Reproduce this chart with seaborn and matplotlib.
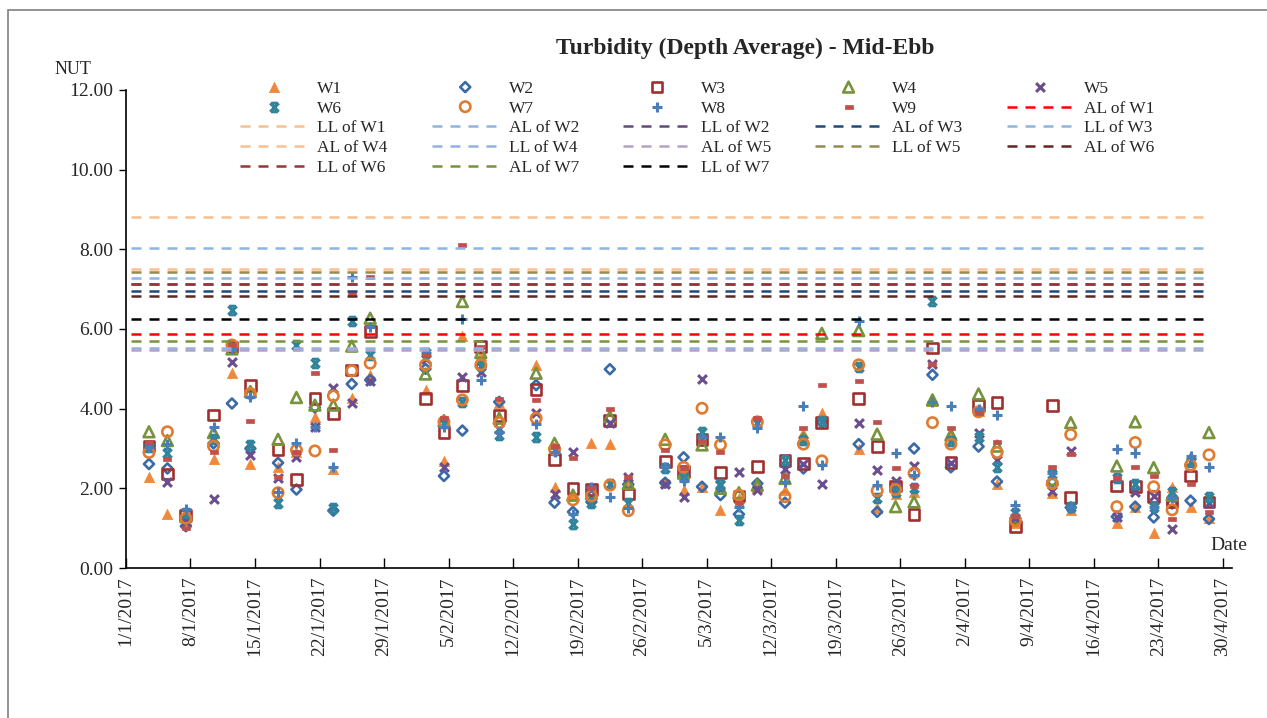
import matplotlib
matplotlib.use("Agg")
import matplotlib.pyplot as plt
from matplotlib.path import Path
from matplotlib.patches import Rectangle
import numpy as np
import pandas as pd
import seaborn as sns

# sampling dates and depth-averaged turbidity per station (NTU)
dates = ["2017-01-03", "2017-01-05", "2017-01-07", "2017-01-10", "2017-01-12", "2017-01-14",
         "2017-01-17", "2017-01-19", "2017-01-21", "2017-01-23", "2017-01-25", "2017-01-27",
         "2017-02-02", "2017-02-04", "2017-02-06", "2017-02-08", "2017-02-10", "2017-02-14",
         "2017-02-16", "2017-02-18", "2017-02-20", "2017-02-22", "2017-02-24", "2017-02-28",
         "2017-03-02", "2017-03-04", "2017-03-06", "2017-03-08", "2017-03-10", "2017-03-13",
         "2017-03-15", "2017-03-17", "2017-03-21", "2017-03-23", "2017-03-25", "2017-03-27",
         "2017-03-29", "2017-03-31", "2017-04-03", "2017-04-05", "2017-04-07", "2017-04-11",
         "2017-04-13", "2017-04-18", "2017-04-20", "2017-04-22", "2017-04-24", "2017-04-26",
         "2017-04-28"]

w1 = [2.29, 1.36, 1.20, 2.73, 4.89, 2.61, 2.54, 2.90, 3.78, 2.48, 4.28, 4.85,
      4.47, 2.69, 5.83, 5.35, 4.13, 5.10, 2.04, 1.80, 3.13, 3.11, 2.15, 2.17,
      1.96, 2.04, 1.46, 1.75, 2.04, 1.96, 3.38, 3.88, 2.98, 1.50, 1.86, 1.92,
      4.20, 3.38, 3.95, 2.12, 1.12, 1.89, 1.46, 1.14, 1.52, 0.89, 2.04, 1.52, 1.25]
w2 = [2.61, 2.50, 1.05, 3.13, 4.13, 3.00, 2.64, 1.97, 4.03, 1.44, 4.62, 4.72,
      5.00, 2.31, 3.45, 5.05, 4.17, 4.59, 1.64, 1.41, 1.66, 4.99, 2.10, 2.14,
      2.78, 2.04, 1.83, 1.35, 2.12, 1.64, 2.50, 3.65, 3.11, 1.41, 1.96, 3.00,
      4.85, 2.53, 3.05, 2.17, 1.25, 2.17, 1.52, 1.29, 1.54, 1.27, 1.62, 1.69, 1.23]
w3 = [3.06, 2.36, 1.33, 3.84, 5.55, 4.59, 2.98, 2.22, 4.26, 3.87, 4.97, 5.93,
      4.26, 3.40, 4.59, 5.56, 3.82, 4.48, 2.73, 2.00, 1.97, 3.70, 1.86, 2.67,
      2.42, 3.23, 2.39, 1.81, 2.54, 2.69, 2.63, 3.65, 4.26, 3.05, 2.06, 1.35,
      5.52, 2.64, 4.07, 4.16, 1.04, 4.07, 1.77, 2.06, 2.04, 1.79, 1.66, 2.31, 1.66]
w4 = [3.42, 3.20, 1.29, 3.40, 5.50, 4.43, 3.23, 4.28, 4.09, 4.09, 5.57, 6.27,
      4.87, 3.70, 6.69, 5.41, 3.76, 4.89, 3.13, 1.83, 1.87, 3.80, 2.12, 3.23,
      2.38, 3.09, 2.00, 1.89, 2.08, 2.25, 3.25, 5.89, 5.96, 3.36, 1.54, 1.66,
      4.22, 3.34, 4.37, 3.06, 1.30, 2.22, 3.65, 2.56, 3.67, 2.52, 1.83, 2.71, 3.40]
w5 = [3.05, 2.17, 1.16, 1.72, 5.18, 2.84, 2.27, 2.78, 3.55, 4.51, 4.13, 4.70,
      5.25, 2.53, 4.79, 4.93, 3.50, 3.90, 1.86, 2.92, 1.96, 3.63, 2.28, 2.12,
      1.77, 4.74, 2.08, 2.42, 1.97, 2.48, 2.61, 2.11, 3.65, 2.46, 2.18, 2.56,
      5.12, 2.63, 3.38, 2.71, 1.25, 1.94, 2.94, 1.29, 1.92, 1.81, 0.99, 2.67, 1.62]
w6 = [3.05, 2.88, 1.39, 3.25, 6.48, 3.09, 1.64, 5.60, 5.15, 1.50, 6.20, 5.35,
      5.39, 3.63, 4.16, 5.08, 3.34, 3.30, 2.96, 1.10, 1.62, 2.12, 1.64, 2.50,
      2.29, 3.42, 2.12, 1.20, 3.63, 2.71, 3.21, 3.70, 5.05, 1.75, 1.92, 2.00,
      6.70, 3.20, 3.28, 2.53, 1.37, 2.36, 1.54, 2.25, 2.12, 1.52, 1.92, 2.67, 1.79]
w7 = [2.90, 3.42, 1.25, 3.06, 5.60, 4.38, 1.89, 2.96, 2.94, 4.32, 4.95, 5.14,
      5.10, 3.67, 4.22, 5.10, 3.65, 3.76, 2.98, 1.71, 1.81, 2.08, 1.44, 3.09,
      2.53, 4.01, 3.09, 1.83, 3.67, 1.79, 3.11, 2.69, 5.10, 1.94, 1.97, 2.38,
      3.65, 3.11, 3.92, 2.90, 1.19, 2.12, 3.35, 1.54, 3.15, 2.04, 1.46, 2.58, 2.84]
w8 = [3.05, 3.11, 1.47, 3.55, 5.50, 4.30, 1.92, 3.13, 3.53, 2.54, 7.30, 6.05,
      5.40, 3.55, 6.25, 4.72, 3.42, 3.62, 2.90, 1.35, 2.04, 1.79, 1.50, 2.54,
      2.18, 3.30, 3.30, 1.54, 3.51, 2.17, 4.07, 2.58, 6.21, 2.08, 2.88, 2.33,
      4.17, 4.07, 4.00, 3.84, 1.58, 2.39, 1.54, 2.98, 2.88, 1.52, 1.75, 2.81, 2.54]
w9 = [3.17, 2.73, 1.00, 2.90, 5.60, 3.70, 2.29, 2.90, 4.89, 2.96, 6.90, 7.30,
      5.35, 3.76, 8.11, 5.55, 4.23, 4.22, 3.06, 2.75, 2.00, 3.98, 2.29, 2.96,
      2.50, 3.20, 2.92, 1.64, 3.76, 2.31, 3.51, 4.59, 4.70, 3.67, 2.50, 2.06,
      5.12, 3.51, 3.90, 3.17, 1.30, 2.53, 2.86, 2.25, 2.54, 2.31, 1.22, 2.12, 1.41]

station_names = ["W1", "W2", "W3", "W4", "W5", "W6", "W7", "W8", "W9"]

# action / limit levels
limit_names = ["AL of W1", "LL of W1", "AL of W2", "LL of W2", "AL of W3", "LL of W3", "AL of W4",
               "LL of W4", "AL of W5", "LL of W5", "AL of W6", "LL of W6", "AL of W7", "LL of W7"]
limit_values = [5.87, 8.81, 5.52, 7.12, 6.96, 7.29, 7.51, 8.03, 5.46, 7.44, 6.84, 7.12, 5.70, 6.25]
line_start, line_end = "2017-01-01", "2017-04-28"

# ---- styles ----
hourglass = Path([(-1, 1), (1, -1), (-1, -1), (1, 1), (-0.75, 1), (0.75, 1), (-0.75, -1), (0.75, -1)],
                 [Path.MOVETO, Path.LINETO] * 4)
rect = Path([(-1, -0.5), (1, -0.5), (1, 0.5), (-1, 0.5), (-1, -0.5)],
            [Path.MOVETO, Path.LINETO, Path.LINETO, Path.LINETO, Path.CLOSEPOLY])
# (marker, colour, kind, size): kind f = filled, o = open outline, l = line art
station_styles = [
    ("^", "#F0883A", "f", 55),
    ("D", "#3A6BA8", "o", 26),
    ("s", "#A0302F", "o", 60),
    ("^", "#77933C", "o", 60),
    ("x", "#6B4E8F", "l", 40),
    (hourglass, "#31849B", "l", 38),
    ("o", "#E07B30", "o", 55),
    ("+", "#4A7EBB", "l", 55),
    (rect, "#C0504D", "f", 30),
]
limit_colors = ["#FF0000", "#FAC090", "#8DB4E2", "#604A7B", "#1F497D", "#8DB4E2", "#FAC090",
                "#8DB4E2", "#B3A2C7", "#948A54", "#632523", "#953735", "#77933C", "#000000"]

sns.set_style("white")
plt.rcParams["font.family"] = ["Liberation Serif", "DejaVu Serif"]

fig = plt.figure(figsize=(12.67, 7.18), dpi=100)
ax = fig.add_axes([0.0994, 0.2089, 0.8730, 0.6658])

half_day = pd.Timedelta(hours=12)
x = pd.to_datetime(dates) + half_day
series = [w1, w2, w3, w4, w5, w6, w7, w8, w9]

for name, vals, (mk, col, kind, size) in zip(station_names, series, station_styles):
    if kind == "f":
        sns.scatterplot(x=x, y=vals, marker=mk, s=size, color=col, edgecolor=col,
                        linewidth=0.5, ax=ax, label=name, zorder=1)
    elif kind == "o":
        sns.scatterplot(x=x, y=vals, marker=mk, s=size, facecolor="none", edgecolor=col,
                        linewidth=1.9, ax=ax, label=name, zorder=1)
    else:
        sns.scatterplot(x=x, y=vals, marker=mk, s=size, color=col, edgecolor=col,
                        linewidth=2.2, ax=ax, label=name, zorder=1)

lx = [pd.Timestamp(line_start) + half_day, pd.Timestamp(line_end) + half_day]
for name, val, col in zip(limit_names, limit_values, limit_colors):
    ax.plot(lx, [val, val], color=col, lw=1.8, dashes=(4, 3.2), label=name, zorder=2)

# axes
ax.set_ylim(0, 12)
ax.set_xlim(pd.Timestamp("2017-01-01"), pd.Timestamp("2017-05-01"))
ax.set_yticks(np.arange(0, 13, 2))
ax.set_yticklabels([f"{v:.2f}" for v in np.arange(0, 13, 2)], fontsize=14)
tick_dates = pd.date_range("2017-01-01", "2017-04-30", freq="7D")
ax.set_xticks(tick_dates)
ax.set_xticklabels([f"{d.day}/{d.month}/{d.year}" for d in tick_dates], rotation=90, fontsize=14)
ax.tick_params(axis="y", direction="out", length=5, width=1, color="black", pad=4, left=True)
ax.tick_params(axis="x", direction="in", length=7, width=1, color="black", pad=6, bottom=True)
for side in ["top", "right"]:
    ax.spines[side].set_visible(False)
for side in ["left", "bottom"]:
    ax.spines[side].set_color("black")
    ax.spines[side].set_linewidth(1.2)
ax.set_xlabel("")
ax.set_ylabel("")

# legend filled row by row in 5 columns
handles, labels = ax.get_legend_handles_labels()
ncol = 5
order = [i for c in range(ncol) for i in range(c, len(handles), ncol)]
ax.legend([handles[i] for i in order], [labels[i] for i in order], ncol=ncol,
          loc="upper left", bbox_to_anchor=(240 / 1267, 1 - 81 / 718), bbox_transform=fig.transFigure,
          frameon=False, fontsize=12.5, handlelength=3.86, handletextpad=0.58, columnspacing=2.55,
          labelspacing=0.2, borderpad=0, borderaxespad=0, scatterpoints=1, scatteryoffsets=[0.5])

fig.text(745.5 / 1267, 1 - 48 / 718, "Turbidity (Depth Average) - Mid-Ebb", ha="center", va="center",
         fontsize=17, fontweight="bold")
fig.text(55 / 1267, 1 - 70 / 718, "NUT", ha="left", va="center", fontsize=13)
fig.text(1210 / 1267, 1 - 545 / 718, "Date", ha="left", va="center", fontsize=14)

fig.patches.append(Rectangle((8 / 1267, -0.1), 1.2, 1.1 + (708 / 718) - 1, transform=fig.transFigure,
                             fill=False, edgecolor="#808080", lw=1.2))

fig.savefig("out.png", dpi=100)
